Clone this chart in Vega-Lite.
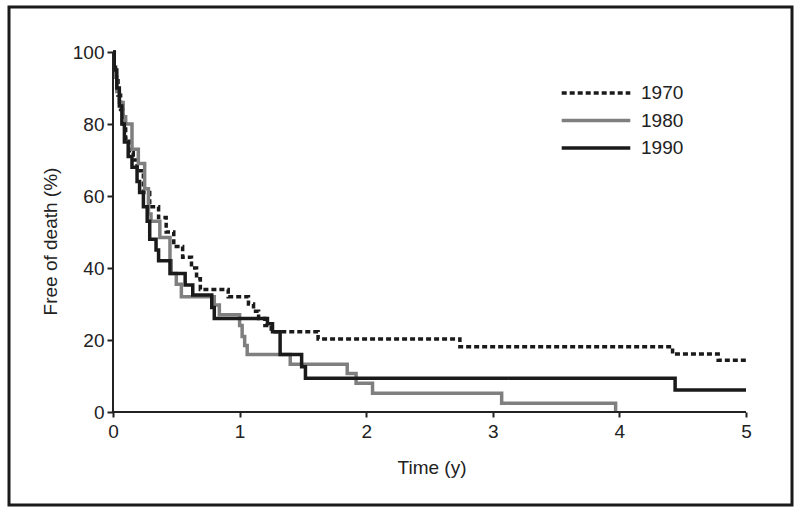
{
  "$schema": "https://vega.github.io/schema/vega-lite/v6.json",
  "width": 783,
  "height": 498,
  "autosize": {"type": "none"},
  "padding": {"left": 9, "top": 7, "right": 8, "bottom": 9},
  "background": "white",
  "config": {
    "view": {"stroke": "#1a1a1a", "strokeWidth": 3},
    "font": "Liberation Sans"
  },
  "layer": [
    {
      "data": {
        "values": [
          {"cohort": "1970", "t": 0, "s": 100}, {"cohort": "1970", "t": 0.01, "s": 97}, {"cohort": "1970", "t": 0.02, "s": 92},
          {"cohort": "1970", "t": 0.04, "s": 88}, {"cohort": "1970", "t": 0.06, "s": 84}, {"cohort": "1970", "t": 0.08, "s": 80},
          {"cohort": "1970", "t": 0.1, "s": 76}, {"cohort": "1970", "t": 0.13, "s": 72}, {"cohort": "1970", "t": 0.16, "s": 70},
          {"cohort": "1970", "t": 0.19, "s": 67}, {"cohort": "1970", "t": 0.24, "s": 61}, {"cohort": "1970", "t": 0.29, "s": 57},
          {"cohort": "1970", "t": 0.36, "s": 54}, {"cohort": "1970", "t": 0.42, "s": 50}, {"cohort": "1970", "t": 0.48, "s": 46},
          {"cohort": "1970", "t": 0.55, "s": 43}, {"cohort": "1970", "t": 0.62, "s": 40}, {"cohort": "1970", "t": 0.66, "s": 37},
          {"cohort": "1970", "t": 0.69, "s": 34}, {"cohort": "1970", "t": 0.91, "s": 32}, {"cohort": "1970", "t": 1.07, "s": 30},
          {"cohort": "1970", "t": 1.11, "s": 28}, {"cohort": "1970", "t": 1.15, "s": 26}, {"cohort": "1970", "t": 1.2, "s": 24},
          {"cohort": "1970", "t": 1.25, "s": 22.3}, {"cohort": "1970", "t": 1.62, "s": 20.3}, {"cohort": "1970", "t": 2.74, "s": 18.1},
          {"cohort": "1970", "t": 4.42, "s": 16.1}, {"cohort": "1970", "t": 4.78, "s": 14.4}, {"cohort": "1970", "t": 5.0, "s": 14.4},

          {"cohort": "1980", "t": 0, "s": 100}, {"cohort": "1980", "t": 0.01, "s": 93}, {"cohort": "1980", "t": 0.03, "s": 89},
          {"cohort": "1980", "t": 0.05, "s": 86}, {"cohort": "1980", "t": 0.08, "s": 82}, {"cohort": "1980", "t": 0.1, "s": 80},
          {"cohort": "1980", "t": 0.15, "s": 73}, {"cohort": "1980", "t": 0.2, "s": 69}, {"cohort": "1980", "t": 0.25, "s": 62},
          {"cohort": "1980", "t": 0.28, "s": 55}, {"cohort": "1980", "t": 0.3, "s": 53}, {"cohort": "1980", "t": 0.37, "s": 48.5},
          {"cohort": "1980", "t": 0.45, "s": 42}, {"cohort": "1980", "t": 0.46, "s": 38.5}, {"cohort": "1980", "t": 0.5, "s": 35.5},
          {"cohort": "1980", "t": 0.54, "s": 32}, {"cohort": "1980", "t": 0.8, "s": 29.7}, {"cohort": "1980", "t": 0.84, "s": 27},
          {"cohort": "1980", "t": 1.0, "s": 24}, {"cohort": "1980", "t": 1.02, "s": 21}, {"cohort": "1980", "t": 1.04, "s": 18.5},
          {"cohort": "1980", "t": 1.06, "s": 16}, {"cohort": "1980", "t": 1.4, "s": 13.3}, {"cohort": "1980", "t": 1.85, "s": 10.7},
          {"cohort": "1980", "t": 1.92, "s": 8}, {"cohort": "1980", "t": 2.05, "s": 5.2}, {"cohort": "1980", "t": 3.07, "s": 2.4},
          {"cohort": "1980", "t": 3.97, "s": 0},

          {"cohort": "1990", "t": 0, "s": 100}, {"cohort": "1990", "t": 0.01, "s": 95}, {"cohort": "1990", "t": 0.03, "s": 90},
          {"cohort": "1990", "t": 0.05, "s": 85}, {"cohort": "1990", "t": 0.07, "s": 80}, {"cohort": "1990", "t": 0.09, "s": 75},
          {"cohort": "1990", "t": 0.12, "s": 71}, {"cohort": "1990", "t": 0.15, "s": 68}, {"cohort": "1990", "t": 0.19, "s": 64},
          {"cohort": "1990", "t": 0.21, "s": 61}, {"cohort": "1990", "t": 0.24, "s": 57}, {"cohort": "1990", "t": 0.27, "s": 53},
          {"cohort": "1990", "t": 0.29, "s": 48}, {"cohort": "1990", "t": 0.34, "s": 45}, {"cohort": "1990", "t": 0.36, "s": 42},
          {"cohort": "1990", "t": 0.45, "s": 38.5}, {"cohort": "1990", "t": 0.57, "s": 35.3}, {"cohort": "1990", "t": 0.63, "s": 32.5},
          {"cohort": "1990", "t": 0.78, "s": 29}, {"cohort": "1990", "t": 0.8, "s": 26}, {"cohort": "1990", "t": 1.22, "s": 24.5},
          {"cohort": "1990", "t": 1.26, "s": 22.3}, {"cohort": "1990", "t": 1.32, "s": 16}, {"cohort": "1990", "t": 1.49, "s": 12.6},
          {"cohort": "1990", "t": 1.52, "s": 9.4}, {"cohort": "1990", "t": 4.44, "s": 6.1}, {"cohort": "1990", "t": 5.0, "s": 6.1}
        ]
      },
      "mark": {"type": "line", "interpolate": "step-after", "strokeWidth": 3.5, "clip": false, "strokeCap": "butt"},
      "encoding": {
        "x": {
          "field": "t", "type": "quantitative",
          "scale": {"domain": [-0.8215, 5.3633], "nice": false, "zero": false},
          "axis": {
            "values": [0, 1, 2, 3, 4, 5], "format": "d", "domain": false, "grid": false,
            "offset": -93, "tickSize": 5, "tickWidth": 2, "tickColor": "#222",
            "labelFontSize": 19, "labelColor": "#222", "labelPadding": 5, "labelFlush": false, "labelOverlap": false,
            "title": "Time (y)", "titleFontSize": 19, "titleFontWeight": "normal", "titleColor": "#222",
            "titleX": 422.5, "titleY": 61, "titleBaseline": "alphabetic", "titleAlign": "center"
          }
        },
        "y": {
          "field": "s", "type": "quantitative",
          "scale": {"domain": [-25.83, 112.5], "nice": false, "zero": false},
          "axis": {
            "values": [0, 20, 40, 60, 80, 100], "format": "d", "domain": false, "grid": false,
            "offset": -104, "tickSize": 6, "tickWidth": 2, "tickColor": "#222",
            "labelFontSize": 19, "labelColor": "#222", "labelPadding": 3, "labelFlush": false, "labelOverlap": false,
            "title": "Free of death (%)", "titleFontSize": 19, "titleFontWeight": "normal", "titleColor": "#222",
            "titleX": -57, "titleY": 234, "titleBaseline": "alphabetic", "titleAlign": "center", "titleAngle": -90
          }
        },
        "color": {
          "field": "cohort", "type": "nominal",
          "scale": {"domain": ["1970", "1980", "1990"], "range": ["#1a1a1a", "#7f7f7f", "#1a1a1a"]},
          "legend": {
            "title": null, "orient": "none", "legendX": 575, "legendY": 74, "padding": 0,
            "symbolType": "M-3.43,0H3.43", "symbolSize": 400, "symbolStrokeWidth": 3.5,
            "labelOffset": 33, "rowPadding": 5.5, "labelFontSize": 19, "labelColor": "#222"
          }
        },
        "strokeDash": {
          "field": "cohort", "type": "nominal",
          "scale": {"domain": ["1970", "1980", "1990"], "range": [[5, 3], [1, 0], [1, 0]]},
          "legend": {
            "title": null, "orient": "none", "legendX": 575, "legendY": 74, "padding": 0,
            "symbolType": "M-3.43,0H3.43", "symbolSize": 400, "symbolStrokeWidth": 3.5,
            "labelOffset": 33, "rowPadding": 5.5, "labelFontSize": 19, "labelColor": "#222"
          }
        }
      }
    },
    {
      "data": {"values": [{}]},
      "mark": {"type": "rule", "color": "#222", "strokeWidth": 2},
      "encoding": {"x": {"datum": 0}, "x2": {"datum": 5}, "y": {"datum": 0}}
    },
    {
      "data": {"values": [{}]},
      "mark": {"type": "rule", "color": "#222", "strokeWidth": 2},
      "encoding": {"x": {"datum": 0}, "y": {"datum": 0}, "y2": {"datum": 100}}
    }
  ]
}
